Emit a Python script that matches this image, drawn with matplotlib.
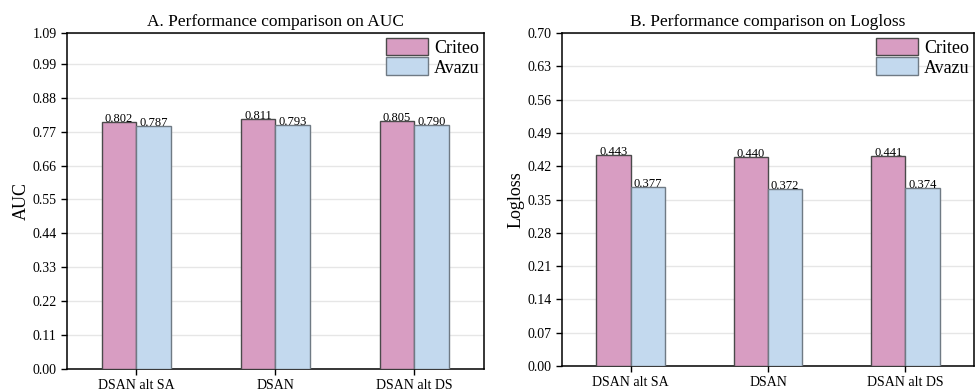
import numpy as np
import matplotlib.pyplot as plt

plt.rcParams['font.family'] = ['Liberation Serif', 'DejaVu Serif']

# データ
models = ['DSAN alt SA', 'DSAN', 'DSAN alt DS']
auc_criteo = [0.802, 0.811, 0.805]
auc_avazu = [0.787, 0.793, 0.790]
logloss_criteo = [0.443, 0.440, 0.441]
logloss_avazu = [0.377, 0.372, 0.374]
auc_ticks = [0.00, 0.11, 0.22, 0.33, 0.44, 0.55, 0.66, 0.77, 0.88, 0.99, 1.09]
logloss_ticks = [0.00, 0.07, 0.14, 0.21, 0.28, 0.35, 0.42, 0.49, 0.56, 0.63, 0.70]

pink = '#D89DC2'
blue = '#C3D9EE'

fig = plt.figure(figsize=(9.75, 3.92), dpi=100)
ax1 = fig.add_axes([0.0687, 0.0587, 0.4277, 0.8571])
ax2 = fig.add_axes([0.5764, 0.0663, 0.4226, 0.8495])

def draw_panel(ax, criteo, avazu, ticks, ylabel, title):
    x = np.arange(len(models))
    w = 0.25
    b1 = ax.bar(x - w / 2, criteo, w, color=pink, edgecolor='#4a4a4a', linewidth=1.0,
                label='Criteo', zorder=3)
    b2 = ax.bar(x + w / 2, avazu, w, color=blue, edgecolor='#6f7a84', linewidth=1.0,
                label='Avazu', zorder=3)
    for bars, vals in ((b1, criteo), (b2, avazu)):
        for r, v in zip(bars, vals):
            ax.text(r.get_x() + r.get_width() / 2, v, '%.3f' % v, ha='center', va='baseline',
                    fontsize=9, zorder=4)
    ax.set_xlim(-0.5, 2.5)
    ax.set_ylim(ticks[0], ticks[-1])
    ax.set_yticks(ticks)
    ax.set_yticklabels(['%.2f' % t for t in ticks])
    ax.set_xticks(x)
    ax.set_xticklabels(models)
    ax.tick_params(direction='out', length=4, width=1, labelsize=10)
    ax.yaxis.grid(True, color='#e6e6e6', linewidth=1, zorder=0)
    ax.set_axisbelow(True)
    for s in ax.spines.values():
        s.set_linewidth(1.1)
    ax.set_ylabel(ylabel, fontsize=13, labelpad=2)
    ax.set_title(title, fontsize=12.5, pad=5)
    ax.legend(loc='upper right', frameon=False, fontsize=13, handlelength=2.3,
              handleheight=1.15, handletextpad=0.35, labelspacing=0.05,
              borderaxespad=0.15, borderpad=0.1)

draw_panel(ax1, auc_criteo, auc_avazu, auc_ticks, 'AUC', 'A. Performance comparison on AUC')
draw_panel(ax2, logloss_criteo, logloss_avazu, logloss_ticks, 'Logloss',
           'B. Performance comparison on Logloss')

plt.savefig('out.png', dpi=100)
